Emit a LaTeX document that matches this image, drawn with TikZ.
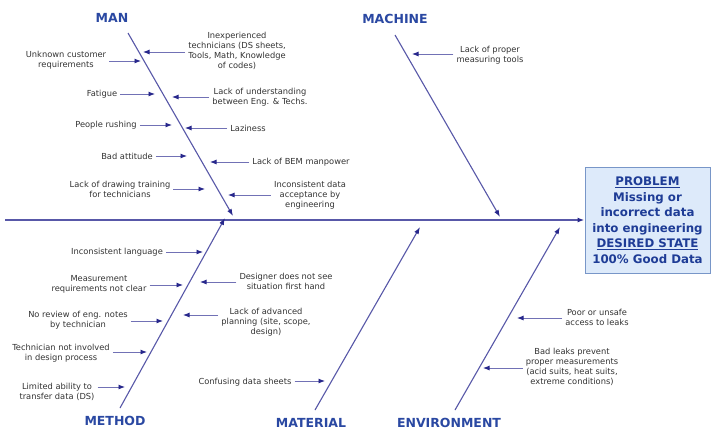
\documentclass[tikz,border=0pt]{standalone}
\usepackage{fontspec}
\setmainfont{DejaVu Sans}
\usetikzlibrary{arrows.meta}
\definecolor{BoneBlue}{RGB}{88,88,168}
\definecolor{TipBlue}{RGB}{40,40,140}
\definecolor{TitleBlue}{RGB}{42,72,162}
\definecolor{ProbBlue}{RGB}{30,60,150}
\definecolor{BoxFill}{RGB}{221,234,250}
\definecolor{BoxLine}{RGB}{120,150,200}
\tikzset{
  bone/.style={draw=BoneBlue,line width=1.1pt,-{Latex[length=7pt,width=5pt,color=TipBlue]}},
  spine/.style={bone,line width=1.5pt},
  cause/.style={draw=BoneBlue!85,line width=0.9pt,-{Latex[length=6.5pt,width=5pt,color=TipBlue]},shorten <=1pt},
  ctext/.style={align=center,inner sep=2pt,text=black!80,font=\fontsize{8.3}{10}\selectfont},
  head/.style={text=TitleBlue,font=\fontsize{12.5}{14}\selectfont\bfseries},
  probbox/.style={draw=BoxLine,fill=BoxFill,line width=1pt,minimum width=125pt,minimum height=106pt,
    align=center,text=ProbBlue,font=\fontsize{11.8}{15.5}\selectfont\bfseries},
}

\begin{document}
\begin{tikzpicture}[x=1pt,y=-1pt]
\fill[white] (0,0) rectangle (713,432);
\useasboundingbox (0,0) rectangle (713,432);

% problem box and spine
\node[probbox] (prob) at (647.5,220) {\underline{PROBLEM}\\Missing or\\incorrect data\\into engineering\\\underline{DESIRED STATE}\\100\% Good Data};
\coordinate (tail) at (5,220);
\draw[spine] (tail) -- (prob);

% category titles
\node[head] (man) at (112,18) {MAN};
\node[head] (mach) at (395,19) {MACHINE};
\node[head] (meth) at (115,421) {METHOD};
\node[head] (mat) at (311,423) {MATERIAL};
\node[head] (env) at (449,423) {ENVIRONMENT};

% bones
\coordinate (mant) at (128,33);  \coordinate (manh) at (233,216);
\coordinate (macht) at (395,35); \coordinate (machh) at (500,217);
\coordinate (metht) at (120,408); \coordinate (methh) at (225,218);
\coordinate (matt) at (315,410); \coordinate (math) at (420,227);
\coordinate (envt) at (455,410); \coordinate (envh) at (560,227);
\draw[bone] (mant) -- (manh);
\draw[bone] (macht) -- (machh);
\draw[bone] (metht) -- (methh);
\draw[bone] (matt) -- (math);
\draw[bone] (envt) -- (envh);

% man, left side
\node[ctext] (u1) at (66,60) {Unknown customer\\requirements};
\node[ctext] (u2) at (102,94) {Fatigue};
\node[ctext] (u3) at (106,125) {People rushing};
\node[ctext] (u4) at (127,156) {Bad attitude};
\node[ctext] (u5) at (120,189) {Lack of drawing training\\for technicians};
\coordinate (u1h) at (141,61);
\coordinate (u2h) at (155,94);
\coordinate (u3h) at (172,125);
\coordinate (u4h) at (187,156);
\coordinate (u5h) at (205,189);
\draw[cause] (u1.east |- u1h) -- (u1h);
\draw[cause] (u2.east |- u2h) -- (u2h);
\draw[cause] (u3.east |- u3h) -- (u3h);
\draw[cause] (u4.east |- u4h) -- (u4h);
\draw[cause] (u5.east |- u5h) -- (u5h);

% man, right side
\node[ctext] (m1) at (237,51) {Inexperienced\\technicians (DS sheets,\\Tools, Math, Knowledge\\of codes)};
\node[ctext] (m2) at (260,97) {Lack of understanding\\between Eng. \& Techs.};
\node[ctext] (m3) at (248,128) {Laziness};
\node[ctext] (m4) at (301,162) {Lack of BEM manpower};
\node[ctext] (m5) at (310,195) {Inconsistent data\\acceptance by\\engineering};
\coordinate (m1h) at (143,52);
\coordinate (m2h) at (172,97);
\coordinate (m3h) at (185,128);
\coordinate (m4h) at (210,162);
\coordinate (m5h) at (228,195);
\draw[cause] (m1.west |- m1h) -- (m1h);
\draw[cause] (m2.west |- m2h) -- (m2h);
\draw[cause] (m3.west |- m3h) -- (m3h);
\draw[cause] (m4.west |- m4h) -- (m4h);
\draw[cause] (m5.west |- m5h) -- (m5h);

% machine
\node[ctext] (k1) at (490,55) {Lack of proper\\measuring tools};
\coordinate (k1h) at (412,54);
\draw[cause] (k1.west |- k1h) -- (k1h);

% method, left side
\node[ctext] (d1) at (117,252) {Inconsistent language};
\node[ctext] (d2) at (99,284) {Measurement\\requirements not clear};
\node[ctext] (d3) at (78,320) {No review of eng. notes\\by technician};
\node[ctext] (d4) at (61,353) {Technician not involved\\in design process};
\node[ctext] (d5) at (57,392) {Limited ability to\\transfer data (DS)};
\coordinate (d1h) at (203,252);
\coordinate (d2h) at (183,285);
\coordinate (d3h) at (163,321);
\coordinate (d4h) at (147,352);
\coordinate (d5h) at (125,387);
\draw[cause] (d1.east |- d1h) -- (d1h);
\draw[cause] (d2.east |- d2h) -- (d2h);
\draw[cause] (d3.east |- d3h) -- (d3h);
\draw[cause] (d4.east |- d4h) -- (d4h);
\draw[cause] (d5.east |- d5h) -- (d5h);

% method, right side
\node[ctext] (e1) at (286,281) {Designer does not see\\situation first hand};
\node[ctext] (e2) at (266,322) {Lack of advanced\\planning (site, scope,\\design)};
\coordinate (e1h) at (200,282);
\coordinate (e2h) at (183,315);
\draw[cause] (e1.west |- e1h) -- (e1h);
\draw[cause] (e2.west |- e2h) -- (e2h);

% material
\node[ctext] (t1) at (245,382) {Confusing data sheets};
\coordinate (t1h) at (325,381);
\draw[cause] (t1.east |- t1h) -- (t1h);

% environment
\node[ctext] (v1) at (597,317) {Poor or unsafe\\access to leaks};
\node[ctext] (v2) at (572,367) {Bad leaks prevent\\proper measurements\\(acid suits, heat suits,\\extreme conditions)};
\coordinate (v1h) at (517,318);
\coordinate (v2h) at (483,368);
\draw[cause] (v1.west |- v1h) -- (v1h);
\draw[cause] (v2.west |- v2h) -- (v2h);
\end{tikzpicture}
\end{document}
